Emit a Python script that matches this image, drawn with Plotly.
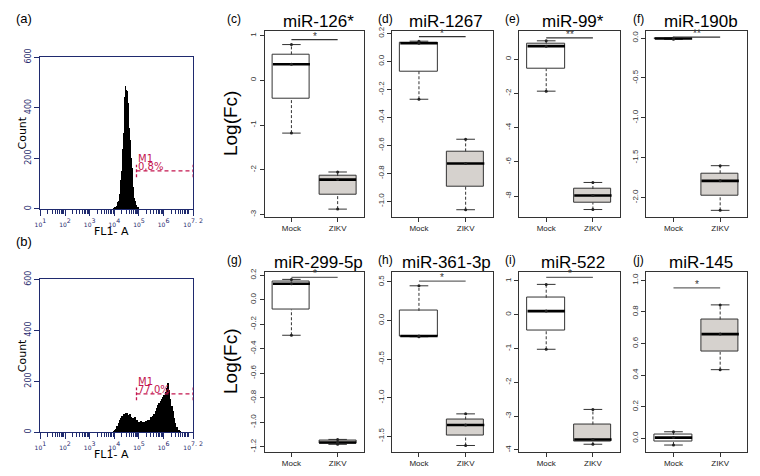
import math
import plotly.graph_objects as go

W, H = 760, 476
OFF = 8  # the page body adds an 8px margin around the plot div
NAVY = '#1f2a6e'
CRIMSON = '#c4164f'
ZIKV_FILL = '#d6d2ce'
FONT = 'Liberation Sans, Arial, sans-serif'
FLOW_FONT = 'DejaVu Sans, sans-serif'

GROUPS = ['Mock', 'ZIKV']

# flow cytometry histograms: counts per FL1-A bin (log10 units)
HIST_A_START, HIST_A_STEP = 4.0, 0.025
HIST_A_COUNTS = [1, 2, 3, 5, 8, 12, 18, 25, 32, 42, 60, 85, 115, 150, 190, 235, 300, 370, 440, 485,
                 470, 465, 450, 420, 360, 320, 270, 235, 200, 160, 120, 85, 60, 42, 30, 20, 13, 8, 5, 3, 1]
HIST_B_START, HIST_B_STEP = 4.0, 0.05
HIST_B_COUNTS = [2, 5, 12, 22, 35, 45, 55, 62, 68, 66, 75, 72, 65, 68, 58, 55, 52, 56, 48, 45,
                 40, 38, 44, 36, 40, 38, 42, 40, 45, 48, 58, 55, 62, 70, 80, 92, 105, 112, 120, 128,
                 135, 145, 155, 170, 192, 165, 130, 100, 80, 55, 35, 20, 8, 3, 1]
GATE_M1 = [4.9, 7.2]
GATE_LEVEL = 150
GATE_PCT = ['0,8%', '77,0%']
FL1_TICKS = [1, 2, 3, 4, 5, 6, 7.2]
FL1_LABELS = ['1', '2', '3', '4', '5', '6', '7. 2']

# miRNA log fold change, three replicates per group
MIR_NAMES = ['miR-126*', 'miR-1267', 'miR-99*', 'miR-190b',
             'miR-299-5p', 'miR-361-3p', 'miR-522', 'miR-145']
MIR126_MOCK = [-1.18, 0.36, 0.80]
MIR126_ZIKV = [-2.88, -2.22, -2.05]
MIR1267_MOCK = [-0.27, 0.13, 0.145]
MIR1267_ZIKV = [-1.06, -0.73, -0.556]
MIR99_MOCK = [-1.87, 0.76, 1.07]
MIR99_ZIKV = [-8.78, -7.96, -7.2]
MIR190B_MOCK = [-0.015, -0.005, 0.0]
MIR190B_ZIKV = [-2.16, -1.79, -1.60]
MIR299_MOCK = [-0.29, 0.13, 0.166]
MIR299_ZIKV = [-1.18, -1.165, -1.14]
MIR361_MOCK = [-0.21, -0.20, 0.45]
MIR361_ZIKV = [-1.62, -1.355, -1.21]
MIR522_MOCK = [-1.02, 0.11, 0.90]
MIR522_ZIKV = [-3.83, -3.69, -2.80]
MIR145_MOCK = [-0.042, 0.005, 0.042]
MIR145_ZIKV = [0.435, 0.66, 0.845]
SIG_Y = [0.91, 0.177, 1.24, 0.012, 0.182, 0.51, 1.11, 0.952]
SIG_TEXT = ['*', '*', '**', '**', '*', '*', '*', '*']

MOCK = [MIR126_MOCK, MIR1267_MOCK, MIR99_MOCK, MIR190B_MOCK,
        MIR299_MOCK, MIR361_MOCK, MIR522_MOCK, MIR145_MOCK]
ZIKV = [MIR126_ZIKV, MIR1267_ZIKV, MIR99_ZIKV, MIR190B_ZIKV,
        MIR299_ZIKV, MIR361_ZIKV, MIR522_ZIKV, MIR145_ZIKV]

# axis setup for the box panels
Y_RANGES = [[-3.05, 1.11], [-1.11, 0.22], [-9.2, 1.66], [-2.24, 0.093],
            [-1.24, 0.23], [-1.70, 0.635], [-4.05, 1.28], [-0.084, 1.056]]
Y_TICKS = [[-3, -2, -1, 0, 1], [-1.0, -0.8, -0.6, -0.4, -0.2, 0.0, 0.2], [-8, -6, -4, -2, 0],
           [-2.0, -1.5, -1.0, -0.5, 0.0], [-1.2, -1.0, -0.8, -0.6, -0.4, -0.2, 0.0, 0.2],
           [-1.5, -1.0, -0.5, 0.0, 0.5], [-4, -3, -2, -1, 0, 1], [0.0, 0.2, 0.4, 0.6, 0.8, 1.0]]
Y_DEC = [0, 1, 0, 1, 1, 1, 0, 1]
BOX_COLS = [(264, 366), (394, 497), (524, 627), (654, 757)]
BOX_ROWS = [(22, 212), (268, 452)]
LETTERS = ['c', 'd', 'e', 'f', 'g', 'h', 'i', 'j']


def px(x):
    return max(x - OFF, 0) / W


def py(y):
    return 1 - max(y - OFF, 0) / H


def fivenum(v):
    v = sorted(v)
    n = len(v)
    n4 = math.floor((n + 3) / 2) / 2
    d = [1, n4, (n + 1) / 2, n + 1 - n4, n]
    return [0.5 * (v[math.floor(i) - 1] + v[math.ceil(i) - 1]) for i in d]


def label(x, y, text, size, color='black', family=FONT, **kw):
    d = dict(x=px(x), y=py(y), xref='paper', yref='paper', text=text, showarrow=False,
             xanchor='center', yanchor='middle', font=dict(size=size, color=color, family=family))
    d.update(kw)
    return d


fig = go.Figure()
annotations = []
shapes = []
layout_axes = {}

# ---- flow histograms (a), (b)
hist_boxes = [(35, 191, 49, 204), (35, 191, 276, 432)]
hists = [(HIST_A_START, HIST_A_STEP, HIST_A_COUNTS), (HIST_B_START, HIST_B_STEP, HIST_B_COUNTS)]
major_text = ["<span style='font-size:6px'>10</span><sup>%s</sup>" % t for t in FL1_LABELS]
minor = [d + math.log10(k) for d in range(1, 7) for k in range(2, 11)]
for i, ((x0, x1, y0, y1), (start, step, counts)) in enumerate(zip(hist_boxes, hists)):
    n = i + 1
    sfx = '' if n == 1 else str(n)
    fig.add_trace(go.Bar(x0=start, dx=step, y=counts, width=step,
                         marker=dict(color='black', line=dict(width=0)),
                         xaxis='x' + sfx, yaxis='y' + sfx, hoverinfo='skip'))
    layout_axes['xaxis' + sfx] = dict(
        domain=[px(x0), px(x1)], range=[1, 7.2], anchor='y' + sfx,
        tickvals=FL1_TICKS, ticktext=major_text, tickangle=0, ticks='outside', ticklen=6,
        tickcolor=NAVY, tickfont=dict(size=9, color=NAVY, family=FLOW_FONT),
        minor=dict(tickvals=minor, ticks='outside', ticklen=4, tickcolor=NAVY),
        showline=True, mirror=True, linecolor=NAVY, linewidth=1.2,
        showgrid=False, zeroline=False)
    layout_axes['yaxis' + sfx] = dict(
        domain=[py(y1), py(y0)], range=[0, 600], anchor='x' + sfx,
        tickvals=[0, 200, 400, 600], tickangle=-90, ticks='outside', ticklen=5,
        tickcolor=NAVY, tickfont=dict(size=8, color=NAVY, family=FLOW_FONT),
        showline=True, mirror=True, linecolor=NAVY, linewidth=1.2,
        showgrid=False, zeroline=False)
    # M1 gate
    g0, g1 = GATE_M1
    shapes.append(dict(type='line', xref='x' + sfx, yref='y' + sfx, x0=g0, x1=g1,
                       y0=GATE_LEVEL, y1=GATE_LEVEL,
                       line=dict(color=CRIMSON, width=1.3, dash='4px,3px')))
    for gx in GATE_M1:
        shapes.append(dict(type='line', xref='x' + sfx, yref='y' + sfx, x0=gx, x1=gx,
                           y0=GATE_LEVEL - 25, y1=GATE_LEVEL + 25,
                           line=dict(color=CRIMSON, width=1.3, dash='3px,2px')))
    for txt, lvl in [('M1', GATE_LEVEL + 50), (GATE_PCT[i], GATE_LEVEL + 17)]:
        annotations.append(dict(x=g0 - 0.02, y=lvl, xref='x' + sfx, yref='y' + sfx,
                                text=txt, showarrow=False, xanchor='left', yanchor='middle',
                                font=dict(size=10, color=CRIMSON, family=FLOW_FONT)))
    annotations.append(label(OFF, (y0 + y1) / 2, 'Count', 11, family=FLOW_FONT,
                             textangle=-90, xanchor='left'))
    annotations.append(label(108, y1 + 23, 'FL1- A', 11, family=FLOW_FONT))
    annotations.append(label(OFF, y0 - 39, '(%s)' % 'ab'[i], 13, xanchor='left'))

# ---- box panels (c)-(j)
for i in range(8):
    n = i + 3
    xa, ya = 'x%d' % n, 'y%d' % n
    x0, x1 = BOX_COLS[i % 4]
    y0, y1 = BOX_ROWS[i // 4]
    stats = [fivenum(MOCK[i]), fivenum(ZIKV[i])]
    pos = [1, 2]

    fig.add_trace(go.Bar(
        x=pos, base=[s[1] for s in stats], y=[s[3] - s[1] for s in stats], width=0.8,
        marker=dict(color=['white', ZIKV_FILL], line=dict(color='#333333', width=1)),
        xaxis=xa, yaxis=ya, hoverinfo='skip'))
    wx, wy, sx, sy, mx, my = [], [], [], [], [], []
    for p, s in zip(pos, stats):
        wx += [p, p, None, p, p, None]
        wy += [s[3], s[4], None, s[0], s[1], None]
        sx += [p - 0.2, p + 0.2, None, p - 0.2, p + 0.2, None]
        sy += [s[4], s[4], None, s[0], s[0], None]
        mx += [p - 0.4, p + 0.4, None]
        my += [s[2], s[2], None]
    fig.add_trace(go.Scatter(x=wx, y=wy, mode='lines', xaxis=xa, yaxis=ya,
                             line=dict(color='#333333', width=1, dash='3px,2px')))
    fig.add_trace(go.Scatter(x=sx, y=sy, mode='lines', xaxis=xa, yaxis=ya,
                             line=dict(color='#333333', width=1)))
    fig.add_trace(go.Scatter(x=mx, y=my, mode='lines', xaxis=xa, yaxis=ya,
                             line=dict(color='black', width=2.6)))
    fig.add_trace(go.Scatter(x=[1] * 3 + [2] * 3, y=MOCK[i] + ZIKV[i], mode='markers',
                             xaxis=xa, yaxis=ya, marker=dict(color='#222222', size=3)))
    sig_col = '#333333' if i < 4 else '#666666'
    fig.add_trace(go.Scatter(x=pos, y=[SIG_Y[i]] * 2, mode='lines', xaxis=xa, yaxis=ya,
                             line=dict(color=sig_col, width=1.2)))
    annotations.append(dict(x=1.5, y=SIG_Y[i], xref=xa, yref=ya, text=SIG_TEXT[i],
                            showarrow=False, xanchor='center', yanchor='bottom', yshift=-4,
                            font=dict(size=10, color='#333333', family=FONT)))

    fmt = '%.1f' if Y_DEC[i] else '%d'
    layout_axes['xaxis%d' % n] = dict(
        domain=[px(x0), px(x1)], range=[0.42, 2.58], anchor=ya,
        tickvals=pos, ticktext=GROUPS, tickangle=0, ticks='outside', ticklen=4,
        tickcolor='#333333', tickfont=dict(size=8, color='#222222', family=FONT),
        showline=True, mirror=True, linecolor='#333333', linewidth=1,
        showgrid=False, zeroline=False)
    layout_axes['yaxis%d' % n] = dict(
        domain=[py(y1), py(y0)], range=Y_RANGES[i], anchor=xa,
        tickvals=Y_TICKS[i], ticktext=[fmt % t for t in Y_TICKS[i]], tickangle=-90,
        ticks='outside', ticklen=4, tickcolor='#333333',
        tickfont=dict(size=8, color='#333333', family=FONT),
        showline=True, mirror=True, linecolor='#333333', linewidth=1,
        showgrid=False, zeroline=False)

    annotations.append(label((x0 + x1) / 2 + 4, y0 - 9, MIR_NAMES[i], 17))
    lx = x0 - 40 if i % 4 == 0 else x0 - 16
    annotations.append(label(lx, y0 - 12, '(%s)' % LETTERS[i], 12, xanchor='left'))
    if i % 4 == 0:
        annotations.append(label(229, (y0 + y1) / 2, 'Log(Fc)', 19, textangle=-90))

fig.update_layout(
    width=W, height=H, margin=dict(l=0, r=0, t=0, b=0),
    plot_bgcolor='white', paper_bgcolor='white', showlegend=False,
    bargap=0, annotations=annotations, shapes=shapes, **layout_axes)

fig.write_html("out.html")
